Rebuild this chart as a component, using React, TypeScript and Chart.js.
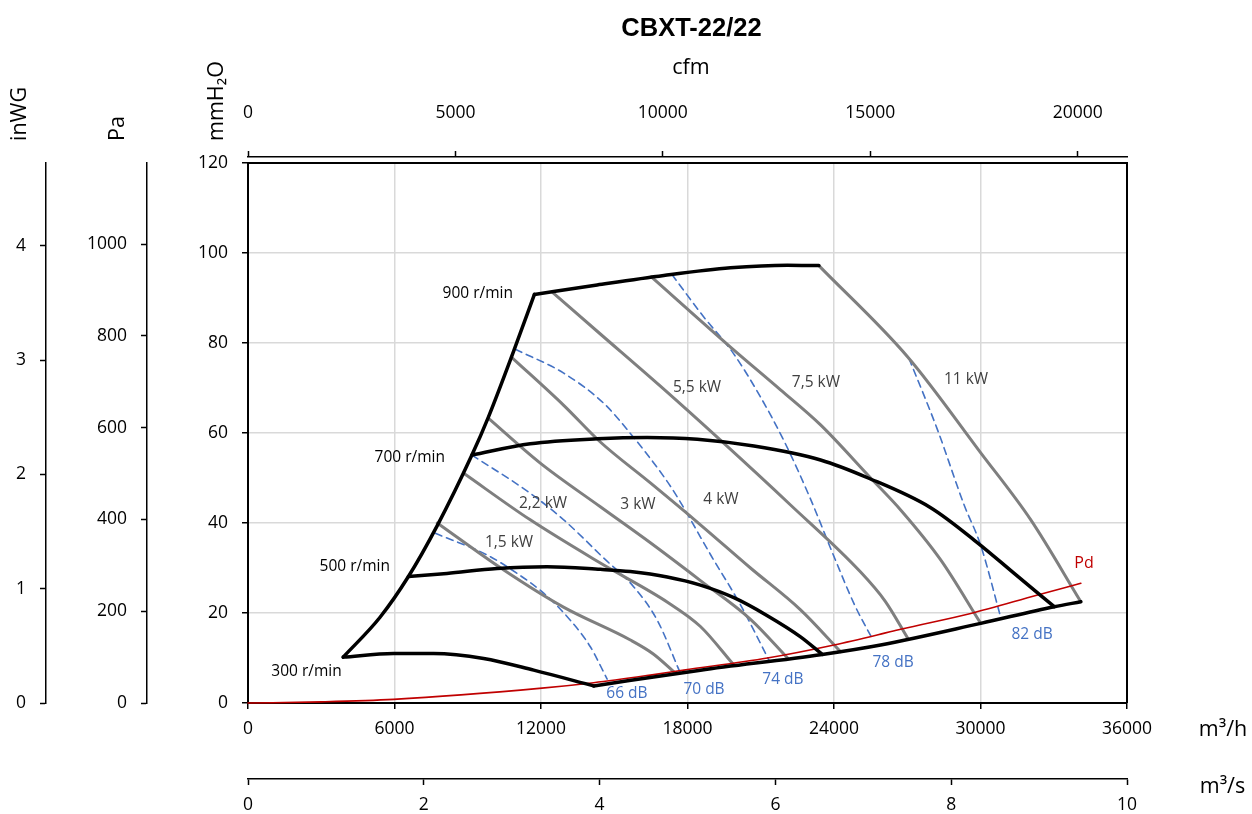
import React, { useEffect, useRef } from 'react';
import { Chart, registerables } from 'chart.js';

Chart.register(...registerables);

const FONT = "'Open Sans', 'DejaVu Sans', sans-serif";

type P = [number, number];

// ---- axis ticks ----
const flowTicksM3h = [0, 6000, 12000, 18000, 24000, 30000, 36000];
const flowTicksCfm = [0, 5000, 10000, 15000, 20000];
const flowTicksM3s = [0, 2, 4, 6, 8, 10];
const pressTicksMm = [0, 20, 40, 60, 80, 100, 120];
const pressTicksPa = [0, 200, 400, 600, 800, 1000];
const pressTicksInWG = [0, 1, 2, 3, 4];

// ---- boundary curves (m3/h, mmH2O) ----
const surgeLine: P[] = [[3900, 10.2], [5400, 19.0], [6570, 28.1], [7740, 39.3], [9170, 55.1], [9850, 63.6], [10880, 78.2], [11730, 90.8]];
const maxFlowLine: P[] = [[14160, 3.8], [18530, 7.3], [23520, 10.8], [25910, 12.9], [30010, 17.7], [33020, 21.4], [34110, 22.5]];

// ---- speed curves ----
const rpm300: P[] = [[3900, 10.2], [5960, 11.0], [7600, 11.0], [9650, 9.9], [11700, 7.3], [14160, 3.8]];
const rpm500: P[] = [[6570, 28.1], [8150, 28.8], [10200, 29.9], [12250, 30.3], [14430, 29.7], [15660, 29.2], [17170, 28.0], [18530, 26.2], [19900, 23.4], [21270, 19.4], [22630, 14.7], [23520, 10.8]];
const rpm700: P[] = [[9170, 55.1], [11560, 57.6], [14300, 58.7], [16350, 59.0], [18400, 58.6], [20720, 57.1], [23450, 54.0], [25400, 50.0], [27960, 43.4], [29880, 35.6], [31380, 28.8], [33020, 21.4]];
const rpm900: P[] = [[11730, 90.8], [14300, 92.9], [17030, 95.0], [19760, 96.7], [22090, 97.3], [23380, 97.2]];

// ---- motor power lines ----
const kw15: P[] = [[7750, 40.0], [10460, 29.6], [12920, 21.3], [15660, 14.0], [16600, 10.9], [17510, 6.6]];
const kw22: P[] = [[8820, 51.1], [11560, 40.7], [14430, 31.1], [17180, 22.4], [18530, 17.0], [19890, 8.5]];
const kw3: P[] = [[9840, 63.3], [11970, 53.3], [14430, 43.6], [16480, 35.6], [18530, 27.2], [20580, 18.6], [22100, 10.0]];
const kw4: P[] = [[10820, 76.7], [12920, 66.2], [14430, 58.0], [16480, 48.9], [18530, 39.6], [20580, 30.0], [22630, 20.7], [24270, 11.4]];
const kw55: P[] = [[12460, 91.3], [14430, 82.0], [16890, 70.4], [19350, 58.4], [22220, 44.0], [25090, 29.1], [26100, 22.6], [27020, 14.4]];
const kw75: P[] = [[16520, 94.7], [19760, 79.1], [21810, 69.6], [23450, 61.8], [25500, 50.0], [26730, 42.9], [28370, 31.8], [30010, 17.7]];
const kw11: P[] = [[23380, 97.2], [27020, 76.9], [30010, 55.6], [32060, 40.7], [34110, 22.5]];

// ---- sound level lines ----
const db66: P[] = [[7670, 37.7], [9790, 32.9], [11020, 28.8], [12110, 24.4], [13200, 18.4], [14020, 12.5], [14710, 5.3]];
const db70: P[] = [[9170, 55.1], [11560, 46.6], [12930, 40.7], [14570, 32.2], [15800, 25.8], [16760, 18.4], [17710, 6.6]];
const db74: P[] = [[10950, 78.6], [12930, 73.3], [14570, 66.6], [15660, 59.9], [17030, 50.3], [17580, 45.8], [18940, 33.0], [20170, 21.8], [21330, 9.6]];
const db78: P[] = [[17365, 95.2], [18635, 86.0], [19864, 77.8], [20969, 68.2], [21993, 57.8], [23017, 45.6], [24041, 32.0], [24860, 21.6], [25597, 14.0]];
const db82: P[] = [[27070, 76.6], [28240, 60.7], [29330, 44.0], [30010, 35.0], [30830, 19.0]];

// ---- dynamic pressure ----
const pdLine: P[] = [[0, 0], [3000, 0.25], [5960, 0.8], [12040, 3.3], [14160, 4.5], [16480, 6.2], [17850, 7.3], [21270, 10.0], [24000, 12.9], [25910, 15.3], [26730, 16.4], [29600, 19.9], [32340, 24.0], [34110, 26.6]];

// ---- curve labels (anchor in m3/h, mmH2O) ----
const rpmLabels = [
  { text: '900 r/min', x: 10850, y: 91.0 },
  { text: '700 r/min', x: 8068, y: 54.6 },
  { text: '500 r/min', x: 5816, y: 30.3 },
  { text: '300 r/min', x: 3838, y: 7.0 },
];
const kwLabels = [
  { text: '1,5 kW', x: 10690, y: 35.6 },
  { text: '2,2 kW', x: 12082, y: 44.4 },
  { text: '3 kW', x: 15973, y: 44.0 },
  { text: '4 kW', x: 19372, y: 45.3 },
  { text: '5,5 kW', x: 18389, y: 70.2 },
  { text: '7,5 kW', x: 23261, y: 71.3 },
  { text: '11 kW', x: 29406, y: 71.8 },
];
const dbLabels = [
  { text: '66 dB', x: 15522, y: 2.2 },
  { text: '70 dB', x: 18676, y: 2.9 },
  { text: '74 dB', x: 21911, y: 5.1 },
  { text: '78 dB', x: 26417, y: 8.9 },
  { text: '82 dB', x: 32110, y: 15.1 },
];
const pdLabel = { text: 'Pd', x: 34239, y: 31.1 };

const CFM_PER_M3H = 1.699;
const PA_PER_MM = 9.80665;
const MM_PER_INWG = 25.4;

const toXY = (a: P[]) => a.map(([x, y]) => ({ x, y }));

const BLACK = '#000000';
const GRAY = '#7f7f7f';
const BLUE = '#4472c4';
const RED = '#c00000';

function ds(data: P[], color: string, width: number, order: number, dash: number[] = []) {
  return {
    data: toXY(data),
    borderColor: color,
    backgroundColor: color,
    borderWidth: width,
    borderDash: dash,
    pointRadius: 0,
    pointHoverRadius: 0,
    fill: false,
    cubicInterpolationMode: 'monotone' as const,
    borderCapStyle: 'round' as const,
    borderJoinStyle: 'round' as const,
    order,
    xAxisID: 'x',
    yAxisID: 'y',
    clip: false as const,
  };
}

const tickFont = { family: FONT, size: 17.5 };

function fixedTicks(values: number[]) {
  return (s: any) => {
    s.ticks = values.map((v) => ({ value: v }));
  };
}

export default function App() {
  const ref = useRef<HTMLCanvasElement>(null);

  useEffect(() => {
    const canvas = ref.current;
    if (!canvas) return;

    const framePlugin = {
      id: 'frame',
      beforeDatasetsDraw(chart: any) {
        const { ctx, chartArea } = chart;
        ctx.save();
        ctx.strokeStyle = BLACK;
        ctx.lineWidth = 2;
        ctx.beginPath();
        ctx.moveTo(chartArea.left, chartArea.top);
        ctx.lineTo(chartArea.right, chartArea.top);
        ctx.lineTo(chartArea.right, chartArea.bottom);
        ctx.stroke();
        ctx.restore();
      },
    };

    const textPlugin = {
      id: 'texts',
      afterDatasetsDraw(chart: any) {
        const { ctx, scales } = chart;
        const xs = scales.x;
        const ys = scales.y;
        ctx.save();
        ctx.textBaseline = 'middle';
        ctx.font = `15.5px ${FONT}`;
        ctx.fillStyle = BLACK;
        ctx.textAlign = 'right';
        for (const l of rpmLabels) ctx.fillText(l.text, xs.getPixelForValue(l.x), ys.getPixelForValue(l.y));
        ctx.textAlign = 'center';
        ctx.fillStyle = '#404040';
        for (const l of kwLabels) ctx.fillText(l.text, xs.getPixelForValue(l.x), ys.getPixelForValue(l.y));
        ctx.fillStyle = BLUE;
        for (const l of dbLabels) ctx.fillText(l.text, xs.getPixelForValue(l.x), ys.getPixelForValue(l.y));
        ctx.fillStyle = RED;
        ctx.font = `16px ${FONT}`;
        ctx.fillText(pdLabel.text, xs.getPixelForValue(pdLabel.x), ys.getPixelForValue(pdLabel.y));
        ctx.restore();
      },
      afterDraw(chart: any) {
        const { ctx } = chart;
        ctx.save();
        ctx.fillStyle = BLACK;
        ctx.textBaseline = 'middle';
        ctx.textAlign = 'center';
        ctx.font = `bold 25.5px 'Liberation Sans', Arial, sans-serif`;
        ctx.fillText('CBXT-22/22', 691.5, 28.5);
        ctx.font = `21.5px ${FONT}`;
        ctx.fillText('cfm', 691, 68);
        ctx.fillText('m³/h', 1223, 730);
        ctx.fillText('m³/s', 1222.5, 787);
        const rot = (t: string, x: number) => {
          ctx.save();
          ctx.translate(x, 141);
          ctx.rotate(-Math.PI / 2);
          ctx.textAlign = 'left';
          ctx.fillText(t, 0, 0);
          ctx.restore();
        };
        rot('mmH₂O', 216.7);
        rot('Pa', 118.3);
        rot('inWG', 20);
        ctx.restore();
      },
    };

    const extraAxis = (pad: number) => ({
      grid: { drawOnChartArea: false, drawTicks: true, tickLength: 6, tickColor: BLACK, tickWidth: 1.5, color: BLACK },
      border: { display: true, color: BLACK, width: 1.5 },
      ticks: {
        font: tickFont,
        color: BLACK,
        padding: pad,
        autoSkip: false,
        maxRotation: 0,
        includeBounds: false,
        callback: (v: any) => String(v),
      },
    });

    const chart = new Chart(canvas, {
      type: 'line',
      data: {
        datasets: [
          ds(db66, BLUE, 1.6, 3, [7, 5]),
          ds(db70, BLUE, 1.6, 3, [7, 5]),
          ds(db74, BLUE, 1.6, 3, [7, 5]),
          ds(db78, BLUE, 1.6, 3, [7, 5]),
          ds(db82, BLUE, 1.6, 3, [7, 5]),
          ds(kw15, GRAY, 3, 2),
          ds(kw22, GRAY, 3, 2),
          ds(kw3, GRAY, 3, 2),
          ds(kw4, GRAY, 3, 2),
          ds(kw55, GRAY, 3, 2),
          ds(kw75, GRAY, 3, 2),
          ds(kw11, GRAY, 3, 2),
          ds(pdLine, RED, 1.6, 1),
          ds(surgeLine, BLACK, 3.5, 0),
          ds(maxFlowLine, BLACK, 3.5, 0),
          ds(rpm300, BLACK, 3.5, 0),
          ds(rpm500, BLACK, 3.5, 0),
          ds(rpm700, BLACK, 3.5, 0),
          ds(rpm900, BLACK, 3.5, 0),
        ] as any,
      },
      options: {
        responsive: false,
        animation: false,
        devicePixelRatio: 1,
        layout: { padding: { left: 0, top: 0, bottom: 0, right: 125 } },
        plugins: {
          legend: { display: false },
          tooltip: { enabled: false },
          title: { display: false },
        },
        events: [],
        scales: {
          x: {
            type: 'linear',
            position: 'bottom',
            min: 0,
            max: 36000,
            weight: 0,
            afterBuildTicks: fixedTicks(flowTicksM3h),
            afterFit: (s: any) => { s.height = 76; },
            grid: { color: '#d9d9d9', lineWidth: 1.5, drawTicks: true, tickLength: 6, tickColor: BLACK, tickWidth: 1.5 },
            border: { display: true, color: BLACK, width: 2 },
            ticks: { font: tickFont, color: BLACK, padding: 10, autoSkip: false, maxRotation: 0, callback: (v: any) => String(v) },
          },
          xs: {
            type: 'linear',
            position: 'bottom',
            min: 0,
            max: 10,
            weight: 1,
            afterBuildTicks: fixedTicks(flowTicksM3s),
            afterFit: (s: any) => { s.height = 35; },
            ...extraAxis(10),
          },
          xc: {
            type: 'linear',
            position: 'top',
            min: 0,
            max: 36000 / CFM_PER_M3H,
            weight: 1,
            afterBuildTicks: fixedTicks(flowTicksCfm),
            afterFit: (s: any) => { s.height = 157; },
            ...extraAxis(27.5),
          },
          xg: {
            type: 'linear',
            position: 'top',
            min: 0,
            max: 1,
            weight: 0,
            display: true,
            grid: { display: false },
            border: { display: false },
            ticks: { display: false },
            afterFit: (s: any) => { s.height = 6; },
          },
          y: {
            type: 'linear',
            position: 'left',
            min: 0,
            max: 120,
            weight: 0,
            afterBuildTicks: fixedTicks(pressTicksMm),
            afterFit: (s: any) => { s.width = 101; },
            grid: { color: '#d9d9d9', lineWidth: 1.5, drawTicks: true, tickLength: 6, tickColor: BLACK, tickWidth: 1.5 },
            border: { display: true, color: BLACK, width: 2 },
            ticks: { font: tickFont, color: BLACK, padding: 14, autoSkip: false, callback: (v: any) => String(v) },
          },
          yp: {
            type: 'linear',
            position: 'left',
            min: 0,
            max: 120 * PA_PER_MM,
            weight: 1,
            afterBuildTicks: fixedTicks(pressTicksPa),
            afterFit: (s: any) => { s.width = 101; },
            ...extraAxis(14),
          },
          yi: {
            type: 'linear',
            position: 'left',
            min: 0,
            max: 120 / MM_PER_INWG,
            weight: 2,
            afterBuildTicks: fixedTicks(pressTicksInWG),
            afterFit: (s: any) => { s.width = 46; },
            ...extraAxis(14),
          },
        },
      } as any,
      plugins: [framePlugin, textPlugin],
    });

    return () => chart.destroy();
  }, []);

  return (
    <div style={{ position: 'fixed', left: 0, top: 0, width: 1252, height: 814, background: '#ffffff' }}>
      <canvas ref={ref} width={1252} height={814} style={{ display: 'block', width: 1252, height: 814 }} />
    </div>
  );
}
